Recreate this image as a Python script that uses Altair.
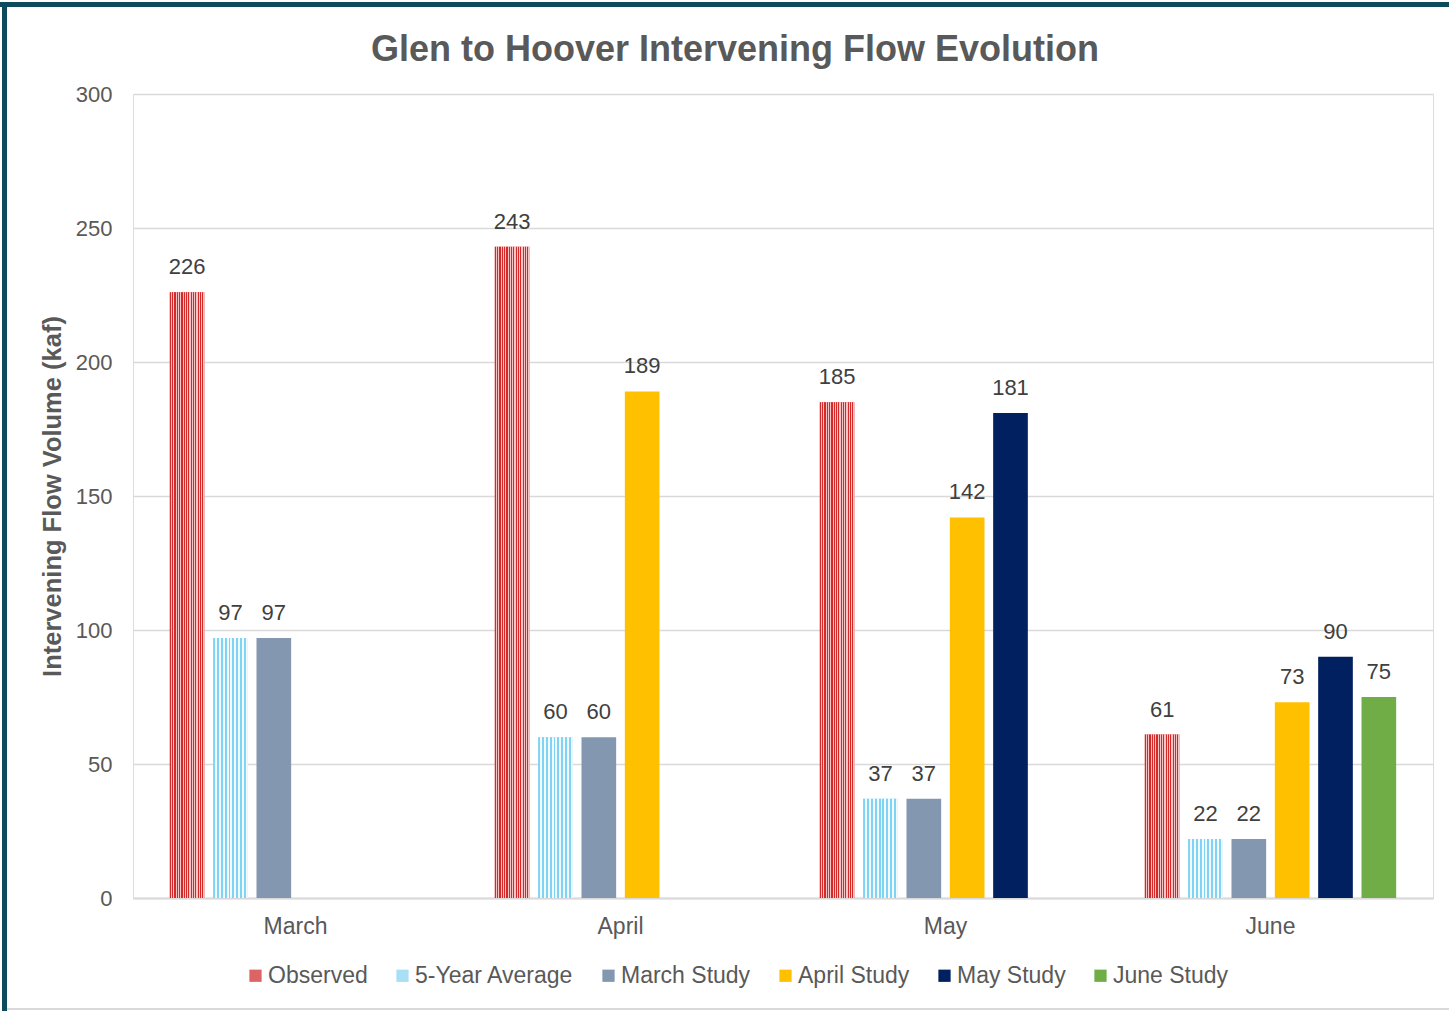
import altair as alt
import pandas as pd

# Monthly intervening flow volumes (kaf) by forecast source
months = ["March", "April", "May", "June"]
series = ["Observed", "5-Year Average", "March Study", "April Study", "May Study", "June Study"]
colors = ["#dc6464", "#a8def6", "#8497b0", "#ffc000", "#002060", "#70ad47"]

observed = [226, 243, 185, 61]
five_year = [97, 60, 37, 22]
march_study = [97, 60, 37, 22]
april_study = [None, 189, 142, 73]
may_study = [None, None, 181, 90]
june_study = [None, None, None, 75]

title_text = ["Glen to Hoover Intervening Flow Evolution"]

rows = []
for name, vals in zip(series, [observed, five_year, march_study, april_study, may_study, june_study]):
    for m, v in zip(months, vals):
        if v is not None:
            rows.append({"month": m, "series": name, "value": v})
df = pd.DataFrame(rows)


def stripes(c1, c2, n):
    stops = []
    for i in range(n):
        a, b, c = i / n, (i + 0.5) / n, (i + 1) / n
        stops += [
            alt.GradientStop(offset=a, color=c1),
            alt.GradientStop(offset=b, color=c1),
            alt.GradientStop(offset=b, color=c2),
            alt.GradientStop(offset=c, color=c2),
        ]
    return alt.LinearGradient(gradient="linear", stops=stops, x1=0, x2=1, y1=0, y2=0)


x_enc = alt.X(
    "month:N",
    sort=months,
    scale=alt.Scale(paddingInner=0, paddingOuter=0),
    axis=alt.Axis(title=None, labelAngle=0, ticks=False, labelPadding=17,
                  labelFontSize=23, labelColor="#595959", domainColor="#d9d9d9",
                  domainWidth=2, labelFont="Liberation Sans"),
)
xo_enc = alt.XOffset("series:N", sort=series,
                     scale=alt.Scale(domain=series, paddingInner=0.2, paddingOuter=0.85))
y_enc = alt.Y(
    "value:Q",
    scale=alt.Scale(domain=[0, 300], nice=False),
    axis=alt.Axis(title="Intervening Flow Volume (kaf)", values=[0, 50, 100, 150, 200, 250, 300],
                  ticks=False, domain=False, labelPadding=21, labelFontSize=22,
                  labelColor="#595959", gridColor="#d9d9d9", gridWidth=1.5,
                  titleFontSize=25.5, titleFontWeight="bold", titleColor="#595959",
                  titleX=-81, titleY=402, titleAngle=-90, titleAlign="center",
                  titleBaseline="middle", labelFont="Liberation Sans", titleFont="Liberation Sans"),
)

base = alt.Chart(df)

bars = base.mark_bar().encode(
    x=x_enc,
    xOffset=xo_enc,
    y=y_enc,
    color=alt.Color(
        "series:N",
        sort=series,
        scale=alt.Scale(domain=series, range=colors),
        legend=alt.Legend(title=None, orient="none", direction="horizontal",
                          legendX=111, legendY=870, symbolType="square", symbolSize=150,
                          labelFontSize=23, labelColor="#595959", labelFont="Liberation Sans",
                          columnPadding=23, symbolOffset=0, labelOffset=1),
    ),
)

obs_texture = base.transform_filter(alt.datum.series == "Observed").mark_bar(
    fill=stripes("#d42a2a", "#f6c4c4", 15)
).encode(x=x_enc, xOffset=xo_enc, y=y_enc)

avg_texture = base.transform_filter(alt.datum.series == "5-Year Average").mark_bar(
    fill=stripes("#7fd3f4", "#f2fafe", 9)
).encode(x=x_enc, xOffset=xo_enc, y=y_enc)

labels = base.mark_text(baseline="bottom", dy=-13, fontSize=22, color="#404040",
                        font="Liberation Sans").encode(
    x=x_enc, xOffset=xo_enc, y=y_enc, text=alt.Text("value:Q")
)

title = alt.Chart(pd.DataFrame({"t": title_text})).mark_text(
    fontSize=36, fontWeight="bold", color="#595959", font="Liberation Sans",
    align="center", baseline="middle"
).encode(text="t:N", x=alt.value(602), y=alt.value(-44))

# outer frame lines around the whole figure
frame_top = base.mark_rule(color="#0d4a5c", strokeWidth=5).encode(
    x=alt.value(-133), x2=alt.value(1316), y=alt.value(-89.5)
)
frame_left = base.mark_rule(color="#0d4a5c", strokeWidth=5).encode(
    x=alt.value(-128.5), y=alt.value(-92), y2=alt.value(917)
)
frame_bottom = base.mark_rule(color="#d9d9d9", strokeWidth=2).encode(
    x=alt.value(-126), x2=alt.value(1316), y=alt.value(915)
)

chart = alt.layer(bars, obs_texture, avg_texture, labels, title,
                  frame_top, frame_left, frame_bottom).properties(
    width=1300,
    height=804,
    padding={"left": 133, "top": 94, "right": 16, "bottom": 113},
    autosize=alt.AutoSizeParams(type="none"),
).configure_view(stroke="#8c8c8c", strokeWidth=1.2).configure(background="white")

chart.save("out.html", embed_options={"renderer": "svg", "actions": False})
